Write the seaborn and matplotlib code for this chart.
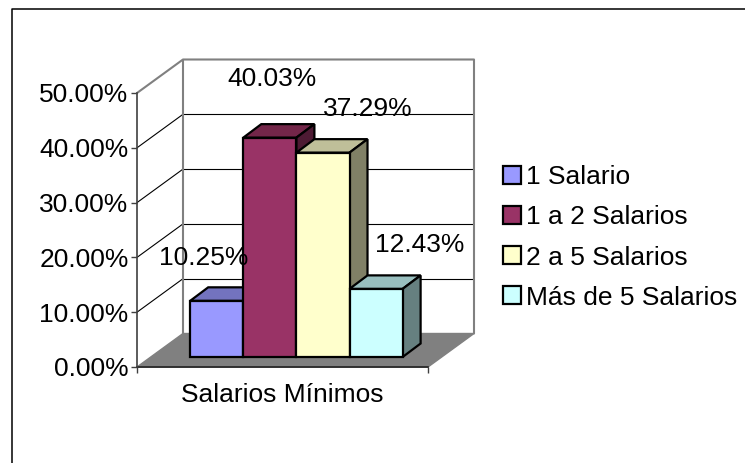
import matplotlib
matplotlib.use("Agg")
import pandas as pd
import seaborn as sns
import matplotlib.pyplot as plt
from matplotlib.patches import Polygon, Rectangle
from matplotlib.lines import Line2D

categorias = ["Salarios Mínimos"]
series = ["1 Salario", "1 a 2 Salarios", "2 a 5 Salarios", "Más de 5 Salarios"]
valores = [10.25, 40.03, 37.29, 12.43]
y_ticks = [0, 10, 20, 30, 40, 50]
colores = ["#9999FF", "#993366", "#FFFFCC", "#CCFFFF"]
colores_top = ["#7373BF", "#732649", "#BFBF99", "#99BFBF"]
colores_lado = ["#4D4D80", "#4D1A33", "#808066", "#668080"]

df = pd.DataFrame({
    "grupo": categorias * len(series),
    "serie": series,
    "valor": valores,
})

sns.set_style("white")
plt.rcParams["font.family"] = ["Liberation Sans", "DejaVu Sans"]

W, H = 745, 463
fig = plt.figure(figsize=(W / 100, H / 100), dpi=100, facecolor="white")

# eje en pixeles de la imagen
x0, x1, y0, y50 = 137, 428, 367, 93
ax = fig.add_axes([x0 / W, 1 - y0 / H, (x1 - x0) / W, (y0 - y50) / H])
ax.patch.set_alpha(0)

px_x = 1 / (x1 - x0)
px_y = 50 / (y0 - y50)
base = 10 * px_y  # el frente de las barras se apoya sobre el piso

sns.barplot(data=df, x="grupo", y="valor", hue="serie", hue_order=series,
            palette=colores, width=0.73, bottom=base, edgecolor="black",
            linewidth=1.6, saturation=1, legend=False, ax=ax, zorder=5)

centro = (296.4 - x0) * px_x
ax.set_xlim(-centro, 1 - centro)
ax.set_ylim(0, 50)

# paredes y piso
wx, wy = 46 * px_x, 33.5 * px_y
xa, xb = ax.get_xlim()
gris = "#808080"
ax.add_patch(Polygon([(xa, 0), (xb, 0), (xb + wx, wy), (xa + wx, wy)],
                     closed=True, fc=gris, ec=gris, lw=1, zorder=1, clip_on=False))
for t in y_ticks[1:-1]:
    ax.plot([xa + wx, xb + wx], [t + wy, t + wy], color="black", lw=0.8, zorder=0.5, clip_on=False)
    ax.plot([xa, xa + wx], [t, t + wy], color="black", lw=0.8, zorder=0.5, clip_on=False)
ax.plot([xa, xa + wx, xb + wx, xb + wx], [50, 50 + wy, 50 + wy, wy],
        color=gris, lw=1.5, zorder=0.6, clip_on=False)
ax.plot([xa + wx, xa + wx], [wy, 50 + wy], color=gris, lw=1.5, zorder=0.6, clip_on=False)

# caras 3D de cada barra
bx, by = 18 * px_x, 13.5 * px_y
barras = [p for p in ax.patches if isinstance(p, Rectangle)][:len(series)]
for i, b in enumerate(barras):
    l, r = b.get_x(), b.get_x() + b.get_width()
    t, f = b.get_y() + b.get_height(), b.get_y()
    z = 3 + i
    b.set_zorder(z + 0.2)
    ax.add_patch(Polygon([(l, t), (r, t), (r + bx, t + by), (l + bx, t + by)], closed=True,
                         fc=colores_top[i], ec="black", lw=1.6, zorder=z, clip_on=False))
    ax.add_patch(Polygon([(r, f), (r + bx, f + by), (r + bx, t + by), (r, t)], closed=True,
                         fc=colores_lado[i], ec="black", lw=1.6, zorder=z, clip_on=False))

# etiquetas de datos (posicion a mano, como en el original)
offs = [(-13.5, 43), (2, 59), (45, 44), (44, 44)]
for i, b in enumerate(barras):
    ax.annotate(f"{valores[i]:.2f}%",
                xy=(b.get_x() + b.get_width() / 2, b.get_y() + b.get_height()),
                xytext=offs[i], textcoords="offset pixels", ha="center", va="center",
                fontsize=19, color="black", zorder=20, annotation_clip=False)

# ejes
ax.set_yticks(y_ticks)
ax.set_yticklabels([f"{t:.2f}%" for t in y_ticks], fontsize=19, color="black")
ax.set_xticks([xa, xb])
ax.set_xticklabels(["", ""])
ax.set_xlim(xa, xb)
ax.set_xlabel("Salarios Mínimos", fontsize=19, color="black")
ax.xaxis.set_label_coords(0.5, -0.06)
ax.tick_params(axis="both", length=4.5, width=1, color="#404040", left=True, bottom=True, pad=1.5)
ax.set_ylabel("")
sns.despine(ax=ax, top=True, right=True)
ax.spines["left"].set_color("#404040")
ax.spines["bottom"].set_color("#202020")
ax.spines["bottom"].set_zorder(2)
for s in ["left", "bottom"]:
    ax.spines[s].set_linewidth(1.2)

# leyenda
handles = [Rectangle((0, 0), 1, 1, fc=c, ec="black", lw=1.6) for c in colores]
fig.legend(handles, series, loc="center left", bbox_to_anchor=(503 / W, 1 - 237.5 / H),
           frameon=False, fontsize=19, labelcolor="black", handlelength=0.68, handleheight=0.68,
           handletextpad=0.2, labelspacing=0.61, borderpad=0, borderaxespad=0)

# marco exterior
fig.add_artist(Line2D([12 / W, 12 / W, 1], [0, 1 - 9 / H, 1 - 9 / H], color="black", lw=1.1))

plt.savefig("out.png", dpi=100)
